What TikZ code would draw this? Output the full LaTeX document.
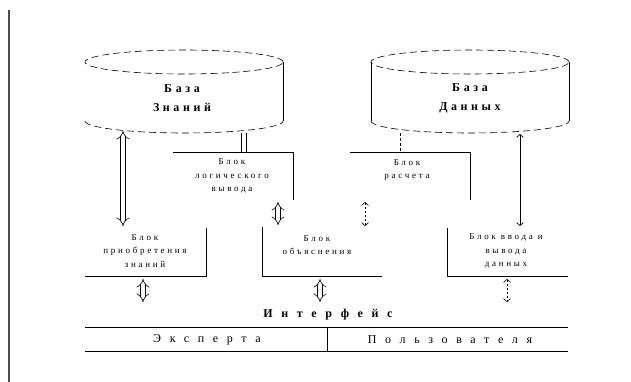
\documentclass[tikz,border=0pt]{standalone}
\usepackage{fontspec}
\setmainfont{Liberation Serif}
\usepackage{tikz}
\usetikzlibrary{arrows.meta}
\tikzstyle{basetext}=[align=center, inner sep=0pt, font=\fontsize{12}{19}\selectfont\bfseries\addfontfeature{LetterSpace=30}]
\tikzstyle{bloktext}=[align=center, inner sep=0pt, font=\fontsize{9}{13.5}\selectfont\addfontfeature{LetterSpace=30}]
\tikzstyle{ifacetext}=[inner sep=0pt, font=\fontsize{12}{14}\selectfont\addfontfeature{LetterSpace=72}]
\tikzstyle{rim}=[dash pattern=on 7pt off 4pt, line width=0.6pt]
\tikzstyle{bline}=[line width=0.9pt]
\tikzstyle{dblarrow}=[double, double distance=4pt, line width=0.6pt, {Implies}-{Implies}]
\tikzstyle{dasharrow}=[dash pattern=on 2pt off 2pt, line width=0.6pt, {Straight Barb[length=3pt,width=7pt]}-{Straight Barb[length=3pt,width=7pt]}]
\tikzstyle{faintarrow}=[line width=0.7pt, {Straight Barb[length=3pt,width=7pt]}-{Straight Barb[length=3pt,width=7pt]}]

\begin{document}
\begin{tikzpicture}[x=1pt, y=-1pt]
\useasboundingbox (0,0) rectangle (631,382);
\draw[black!70, line width=2pt] (8.5,10) -- (8.5,382);

% cylinders
\draw[rim] (184,62) ellipse [x radius=99pt, y radius=12pt];
\draw[rim] (85,121) arc[start angle=180, end angle=360, x radius=99pt, y radius=12pt];
\draw[bline] (283,62) -- (283,121);
\draw[rim] (470,62) ellipse [x radius=99pt, y radius=12pt];
\draw[rim] (371,121) arc[start angle=180, end angle=360, x radius=99pt, y radius=12pt];
\draw[bline] (371,62) -- (371,121) (569,62) -- (569,121);
\node [basetext] (kb) at (182,98) {База\\Знаний};
\node [basetext] (db) at (470,98) {База\\Данных};

% blocks
\draw[bline] (173,152) -- (293,152) -- (293,200);
\node [bloktext] (logic) at (232,176) {Блок\\логического\\вывода};
\draw[bline] (350,152) -- (470,152) -- (470,200);
\node [bloktext] (calc) at (407,170) {Блок\\расчета};
\draw[bline] (206,228) -- (206,276) -- (85,276);
\node [bloktext] (acq) at (145,251) {Блок\\приобретения\\знаний};
\draw[bline] (262,227) -- (262,276) -- (382,276);
\node [bloktext] (expl) at (317,245) {Блок\\объяснения};
\draw[bline] (447,228) -- (447,276) -- (568,276);
\node [bloktext] (io) at (506,251) {Блок ввода и\\вывода\\данных};

% interface
\node [ifacetext, font=\fontsize{12}{14}\selectfont\bfseries\addfontfeature{LetterSpace=72}] (iface) at (328,315) {Интерфейс};
\draw[bline] (85,327) -- (568,327) (85,351) -- (568,351) (327,327) -- (327,351);
\node [ifacetext] (expert) at (207,340) {Эксперта};
\node [ifacetext] (user) at (450,340) {Пользователя};

% connectors
\coordinate (kbA) at (123,131);
\coordinate (acqA) at (123,226);
\coordinate (kbB) at (244,133);
\coordinate (logT) at (244,152);
\coordinate (dbA) at (400,133);
\coordinate (calT) at (400,151);
\coordinate (dbB) at (520,134);
\coordinate (ioA) at (520,226);
\coordinate (logB) at (278,202);
\coordinate (explA) at (278,225);
\coordinate (calB) at (365,202);
\coordinate (explB) at (365,226);
\coordinate (acqB) at (143,279);
\coordinate (ifA) at (143,302);
\coordinate (explC) at (320,279);
\coordinate (ifB) at (320,302);
\coordinate (ioB) at (507,279);
\coordinate (ifC) at (507,302);
\draw[dblarrow] (kbA) -- (acqA);
\draw[double, double distance=4pt, line width=0.6pt] (kbB) -- (logT);
\draw[dash pattern=on 3pt off 2pt, line width=0.8pt] (dbA) -- (calT);
\draw[faintarrow] (dbB) -- (ioA);
\draw[dblarrow] (logB) -- (explA);
\draw[dasharrow] (calB) -- (explB);
\draw[dblarrow] (acqB) -- (ifA);
\draw[dblarrow] (explC) -- (ifB);
\draw[dasharrow] (ioB) -- (ifC);
\end{tikzpicture}
\end{document}
